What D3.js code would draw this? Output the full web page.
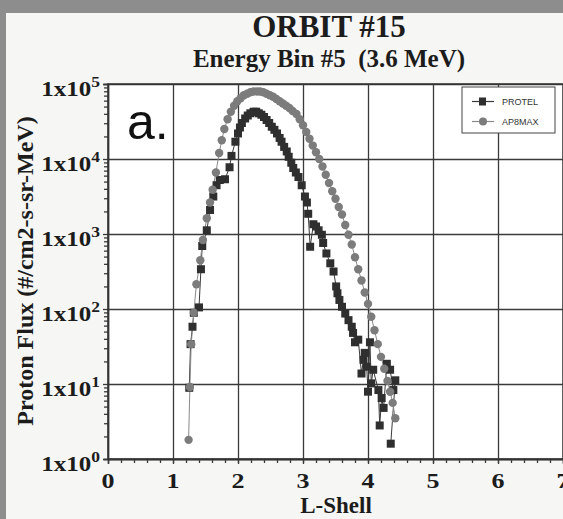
<!DOCTYPE html>
<html>
<head>
<meta charset="utf-8">
<script src="https://cdn.jsdelivr.net/npm/d3@7"></script>
<style>
body { margin: 0; background: #8d8d8d; }
svg { display: block; }
text { font-family: "Liberation Serif", "Times New Roman", serif; font-weight: bold; fill: #1c1c1c; }
</style>
</head>
<body>
<svg width="563" height="519"></svg>
<script>
// L-shell values and flux (#/cm2-s-sr-MeV)
var protelL = [1.25, 1.27, 1.30, 1.32, 1.40, 1.43, 1.45, 1.52, 1.57, 1.62, 1.67, 1.72, 1.80, 1.87, 1.90, 1.96,
	2.00, 2.03, 2.06, 2.11, 2.15, 2.19, 2.24, 2.28, 2.32, 2.36, 2.40, 2.44, 2.48, 2.52, 2.56, 2.60, 2.64, 2.67,
	2.71, 2.75, 2.78, 2.82, 2.85, 2.89, 2.93, 2.98, 3.03, 3.06, 3.08, 3.11, 3.16, 3.20, 3.24, 3.29, 3.31, 3.36,
	3.42, 3.47, 3.51, 3.53, 3.56, 3.60, 3.65, 3.70, 3.75, 3.77, 3.80, 3.85, 3.90, 3.93, 3.95, 3.98, 4.00, 4.03,
	4.05, 4.08, 4.16, 4.18, 4.21, 4.24, 4.29, 4.34, 4.39, 4.42, 4.35];
var protelFlux = [8.9, 34, 58, 89, 105, 339, 692, 1120, 2090, 3160, 4470, 5250, 5370, 7760, 11000, 17000,
	21900, 26300, 30200, 34700, 38000, 40700, 42700, 42700, 40700, 38900, 36300, 33100, 30200, 26900, 24500, 21900, 19100, 17000,
	14500, 12600, 10700, 8910, 7590, 6610, 5750, 4470, 3160, 2630, 1860, 676, 1350, 1260, 1120, 977, 759, 550,
	407, 316, 200, 162, 132, 107, 87, 71, 58, 48, 36, 39, 13.8, 21, 26, 17, 7.9, 36,
	10.2, 15.5, 8.3, 2.8, 6.5, 4.8, 18.6, 15.5, 8.3, 11.2, 1.6];

var ap8L = [1.24, 1.26, 1.28, 1.32, 1.36, 1.42, 1.46, 1.52, 1.57, 1.61, 1.66, 1.71, 1.75, 1.79, 1.84, 1.89,
	1.94, 1.99, 2.04, 2.09, 2.14, 2.19, 2.24, 2.29, 2.34, 2.39, 2.44, 2.49, 2.54, 2.59, 2.64, 2.69, 2.74, 2.79,
	2.84, 2.90, 2.95, 3.00, 3.05, 3.10, 3.15, 3.20, 3.25, 3.30, 3.35, 3.40, 3.45, 3.50, 3.55, 3.60, 3.65, 3.70,
	3.75, 3.80, 3.85, 3.90, 3.95, 4.00, 4.05, 4.10, 4.15, 4.20, 4.25, 4.30, 4.34, 4.38, 4.42];
var ap8Flux = [1.8, 9.1, 34, 89, 214, 447, 832, 1620, 2630, 3890, 6610, 12000, 17800, 25100, 33900, 42700,
	51300, 58900, 64600, 70800, 74100, 77600, 79400, 79400, 79400, 77600, 74100, 70800, 67600, 63100, 58900, 55000, 51300, 47900,
	43700, 39800, 33900, 28200, 22900, 18600, 15100, 12300, 10000, 7940, 6170, 4790, 3720, 2950, 2290, 1820, 1320, 977,
	724, 490, 339, 240, 166, 117, 79, 52, 34, 23, 16, 11, 7.9, 5.6, 3.5];

var xTicks = [0, 1, 2, 3, 4, 5, 6, 7];
var yTicks = [1, 10, 100, 1000, 10000, 100000];
var seriesNames = ['PROTEL', 'AP8MAX'];

var svg = d3.select('svg'),
	width = +svg.attr('width'),
	height = +svg.attr('height');

// scanned page look: grey border, off-white sheet
svg.append('rect').attr('width', width).attr('height', height).attr('fill', '#8d8d8d');
svg.append('rect').attr('x', 6).attr('y', 13).attr('width', width - 6).attr('height', height - 13).attr('fill', '#f6f6f4');

var x = d3.scaleLinear().domain([0, 7]).range([108, 563]);
var y = d3.scaleLog().domain([1, 1e5]).range([459, 84]);
var plotH = y(1) - y(1e5);

svg.append('rect')
	.attr('x', x(0)).attr('y', y(1e5))
	.attr('width', x(7) - x(0)).attr('height', plotH)
	.attr('fill', '#fff');

// grid lines through the plot
svg.append('g')
	.attr('transform', 'translate(0,' + y(1) + ')')
	.call(d3.axisBottom(x).tickValues(xTicks).tickSize(-plotH).tickFormat(''))
	.call(function(g) { g.select('.domain').remove(); });
svg.append('g')
	.attr('transform', 'translate(' + x(0) + ',0)')
	.call(d3.axisLeft(y).tickValues(yTicks).tickSize(-(x(7) - x(0))).tickFormat(''))
	.call(function(g) { g.select('.domain').remove(); });

// outward major + minor ticks
svg.append('g')
	.attr('transform', 'translate(0,' + y(1) + ')')
	.call(d3.axisBottom(x).tickValues(xTicks).tickSize(5).tickFormat(''));
svg.append('g')
	.attr('transform', 'translate(0,' + y(1) + ')')
	.call(d3.axisBottom(x).tickValues(d3.range(0.2, 7, 0.2)).tickSize(4).tickFormat(''));
svg.append('g')
	.attr('transform', 'translate(' + x(0) + ',0)')
	.call(d3.axisLeft(y).tickValues(yTicks).tickSize(5).tickFormat(''));
var minorY = [];
yTicks.slice(0, -1).forEach(function(d) { for (var k = 2; k < 10; k++) minorY.push(d * k); });
svg.append('g')
	.attr('transform', 'translate(' + x(0) + ',0)')
	.call(d3.axisLeft(y).tickValues(minorY).tickSize(4).tickFormat(''));

svg.selectAll('.tick line, .domain').attr('stroke', '#3a3a3a').attr('stroke-width', 1.3);

// frame
svg.append('rect')
	.attr('x', x(0)).attr('y', y(1e5))
	.attr('width', x(7) - x(0)).attr('height', plotH)
	.attr('fill', 'none').attr('stroke', '#333').attr('stroke-width', 1.5);

// tick labels (the source font is stretched sideways)
svg.append('g').selectAll('text')
	.data(xTicks)
	.enter().append('text')
	.attr('transform', function(d) { return 'translate(' + x(d) + ',488) scale(1.3,1)'; })
	.attr('text-anchor', 'middle')
	.style('font-size', '20px')
	.text(function(d) { return d; });

var yl = svg.append('g').selectAll('text')
	.data(yTicks)
	.enter().append('text')
	.attr('transform', function(d) { return 'translate(100,' + (y(d) + 12) + ') scale(1.25,1)'; })
	.attr('text-anchor', 'end')
	.style('font-size', '20px');
yl.append('tspan').text('1x10');
yl.append('tspan')
	.attr('dy', -9)
	.style('font-size', '14px')
	.text(function(d) { return Math.round(Math.log10(d)); });

// titles
svg.append('text').attr('x', 329).attr('y', 37).attr('text-anchor', 'middle')
	.style('font-size', '31px').text('ORBIT #15');
svg.append('text').attr('x', 329).attr('y', 67).attr('text-anchor', 'middle')
	.style('font-size', '25px').style('white-space', 'pre').text('Energy Bin #5  (3.6 MeV)');
svg.append('text').attr('x', 336).attr('y', 513).attr('text-anchor', 'middle')
	.style('font-size', '23px').text('L-Shell');
svg.append('text').attr('transform', 'translate(33,271) rotate(-90)').attr('text-anchor', 'middle')
	.style('font-size', '24px').text('Proton Flux (#/cm2-s-sr-MeV)');

// panel tag
svg.append('text').attr('x', 127).attr('y', 139)
	.style('font-family', '"Liberation Sans", Arial, sans-serif').style('font-weight', 'normal')
	.style('font-size', '50px').style('fill', '#111').text('a.');

var protel = protelL.map(function(l, i) { return { l: l, f: protelFlux[i] }; });
var ap8 = ap8L.map(function(l, i) { return { l: l, f: ap8Flux[i] }; });

var line = d3.line()
	.x(function(d) { return x(d.l); })
	.y(function(d) { return y(d.f); });

svg.append('path').datum(protel).attr('d', line)
	.attr('fill', 'none').attr('stroke', '#3a3a3a').attr('stroke-width', 1);
svg.append('path').datum(ap8).attr('d', line)
	.attr('fill', 'none').attr('stroke', '#8a8a8a').attr('stroke-width', 1);

svg.append('g').selectAll('rect')
	.data(protel)
	.enter().append('rect')
	.attr('x', function(d) { return x(d.l) - 4; })
	.attr('y', function(d) { return y(d.f) - 4; })
	.attr('width', 8).attr('height', 8)
	.attr('fill', '#2f2f2f');

svg.append('g').selectAll('circle')
	.data(ap8)
	.enter().append('circle')
	.attr('cx', function(d) { return x(d.l); })
	.attr('cy', function(d) { return y(d.f); })
	.attr('r', 4.2)
	.attr('fill', '#7c7c7c');

// legend
var legend = svg.append('g').attr('transform', 'translate(462,87)');
legend.append('rect').attr('width', 93).attr('height', 46)
	.attr('fill', '#fff').attr('stroke', '#444').attr('stroke-width', 1);
var item = legend.selectAll('g.item')
	.data(seriesNames)
	.enter().append('g')
	.attr('class', 'item')
	.attr('transform', function(d, i) { return 'translate(0,' + (14.5 + i * 20) + ')'; });
item.append('line').attr('x1', 10).attr('x2', 32)
	.attr('stroke', function(d, i) { return i ? '#8a8a8a' : '#3a3a3a'; }).attr('stroke-width', 1.2);
item.filter(function(d, i) { return i === 0; }).append('rect')
	.attr('x', 17).attr('y', -4).attr('width', 7).attr('height', 8).attr('fill', '#2f2f2f');
item.filter(function(d, i) { return i === 1; }).append('circle')
	.attr('cx', 21).attr('r', 4).attr('fill', '#7c7c7c');
item.append('text')
	.attr('x', 40).attr('dy', '0.35em')
	.style('font-family', '"Liberation Sans", Arial, sans-serif').style('font-weight', 'normal')
	.style('font-size', '9px').style('fill', '#333')
	.text(function(d) { return d; });
</script>
</body>
</html>
